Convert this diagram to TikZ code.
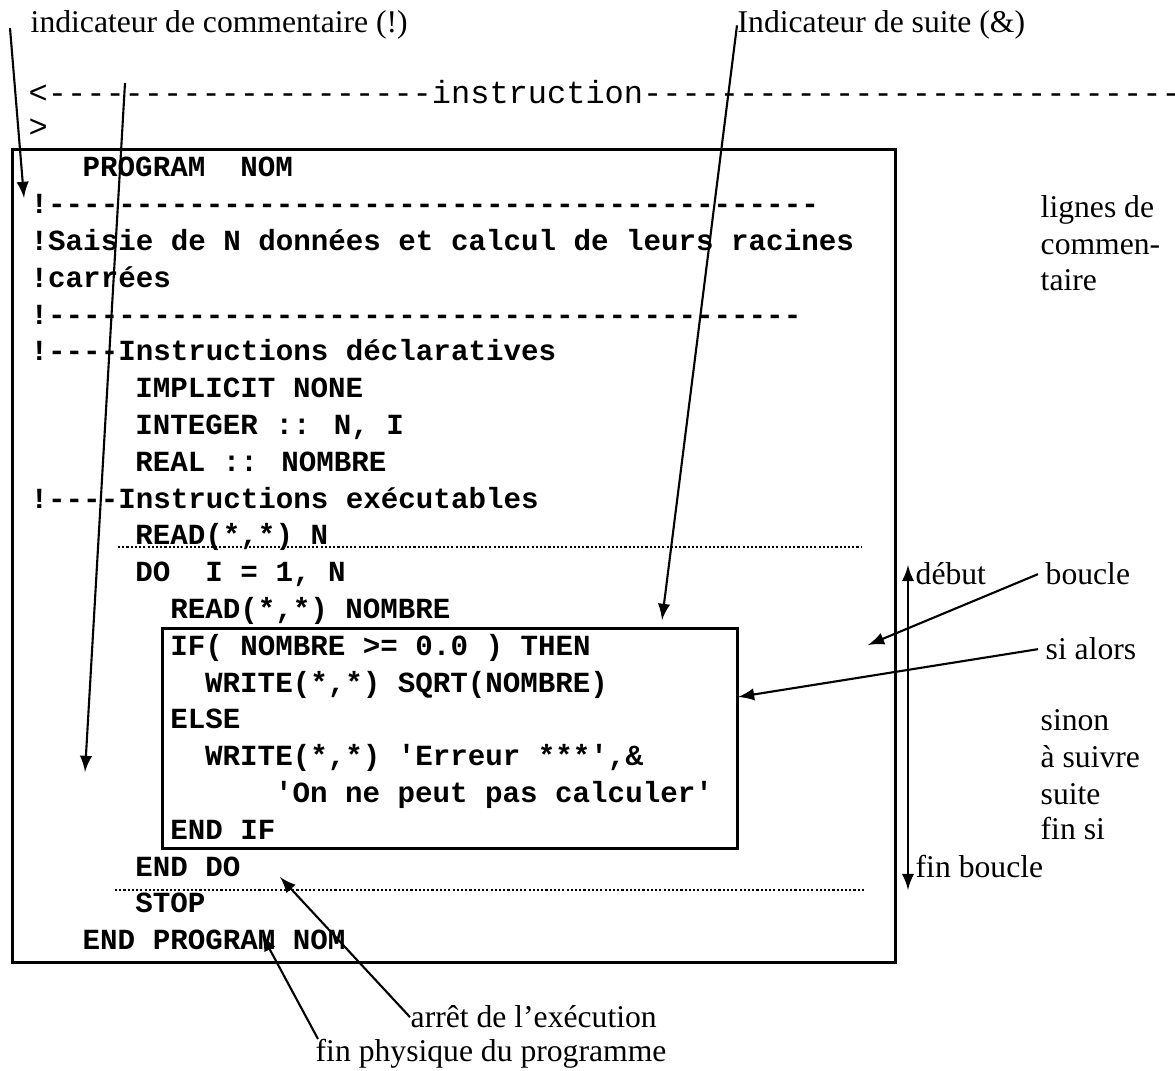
\documentclass[tikz,border=0pt]{standalone}
\usepackage{fontspec}
\setmainfont{Liberation Serif}
\newfontfamily\codefont[Ligatures=TeXOff]{Liberation Mono}

\begin{document}
\begin{tikzpicture}[x=0.01cm,y=-0.01cm,>=latex,
        code/.style={anchor=base west,inner sep=0pt,font=\codefont\bfseries\fontsize{8.3}{10}\selectfont},
        ligne/.style={anchor=base west,inner sep=0pt,font=\codefont\fontsize{9.1}{10}\selectfont},
        note/.style={anchor=base west,inner sep=0pt,font=\fontsize{9}{11}\selectfont},
        fleche/.style={->,line width=0.6pt},
        pointille/.style={line width=0.7pt,dash pattern=on 0.6pt off 0.6pt}]
        \useasboundingbox[fill=white] (0,0) rectangle (1175,1071);
        % en-tete
        \node[note] (comm) at (30,33) {indicateur de commentaire (!)};
        \node[note] (suite) at (737,33) {Indicateur de suite (\&)};
        \node[ligne] (instr) at (28,104) {<--------------------instruction----------------------------};
        \node[ligne] (ferme) at (28,138) {>};
        % les deux cadres
        \node[draw,line width=0.85pt,minimum width=8.82cm,minimum height=8.12cm] (prog) at (454,556) {};
        \node[draw,line width=0.85pt,minimum width=5.74cm,minimum height=2.19cm] (ifbox) at (450,738.5) {};
        % le programme
        \node[code] (l0) at (82,177) {PROGRAM\ \ NOM};
        \node[code] (l1) at (30,213.8) {!--------------------------------------------};
        \node[code] (l2) at (30,250.6) {!Saisie de N données et calcul de leurs racines};
        \node[code] (l3) at (30,287.4) {!carrées};
        \node[code] (l4) at (30,324.2) {!-------------------------------------------};
        \node[code] (l5) at (30,361) {!----Instructions déclaratives};
        \node[code] (l6) at (134.7,397.8) {IMPLICIT NONE};
        \node[code] (l7) at (134.7,434.6) {INTEGER :: N, I};
        \node[code] (l8) at (134.7,471.4) {REAL :: NOMBRE};
        \node[code] (l9) at (30,508.2) {!----Instructions exécutables};
        \node[code] (l10) at (134.7,545) {READ(*,*) N};
        \node[code] (l11) at (134.7,581.8) {DO\ \ I = 1, N};
        \node[code] (l12) at (169.6,618.6) {READ(*,*) NOMBRE};
        \node[code] (l13) at (169.6,655.4) {IF( NOMBRE >= 0.0 ) THEN};
        \node[code] (l14) at (204.5,692.2) {WRITE(*,*) SQRT(NOMBRE)};
        \node[code] (l15) at (169.6,729) {ELSE};
        \node[code] (l16) at (204.5,765.8) {WRITE(*,*) 'Erreur ***',\&};
        \node[code] (l17) at (274.3,802.6) {'On ne peut pas calculer'};
        \node[code] (l18) at (169.6,839.4) {END IF};
        \node[code] (l19) at (134.7,876.2) {END DO};
        \node[code] (l20) at (134.7,913) {STOP};
        \node[code] (l21) at (82,949.8) {END PROGRAM NOM};
        \draw[pointille] (118,547) -- (862,547);
        \draw[pointille] (115,890) -- (865,890);
        % notes de droite
        \node[note] (lignes) at (1040,218) {lignes de};
        \node[note] (commen) at (1040,255) {commen-};
        \node[note] (taire) at (1040,291) {taire};
        \node[note] (debut) at (915,585) {début};
        \node[note] (boucle) at (1045,585) {boucle};
        \node[note] (sialors) at (1045,660) {si alors};
        \node[note] (sinon) at (1040,731) {sinon};
        \node[note] (asuivre) at (1040,768) {à suivre};
        \node[note] (suitebis) at (1040,805) {suite};
        \node[note] (finsi) at (1040,840) {fin si};
        \node[note] (finboucle) at (915,878) {fin boucle};
        % notes du bas
        \node[note] (arret) at (410,1028) {arrêt de l’exécution};
        \node[note] (finphys) at (315,1062) {fin physique du programme};
        % fleches
        \coordinate (commdep) at (10,28);
        \coordinate (commfin) at (24,198);
        \coordinate (coldep) at (125,83);
        \coordinate (colfin) at (85,772);
        \coordinate (suitefin) at (662,620);
        \coordinate (dtop) at (908,565);
        \coordinate (dbot) at (908,890);
        \coordinate (bouclefin) at (868,645);
        \coordinate (sitip) at (738,697);
        \coordinate (stopfin) at (280,877);
        \coordinate (endfin) at (262,935);
        \draw[fleche] (commdep) -- (commfin);
        \draw[fleche] (coldep) -- (colfin);
        \draw[fleche] (suite.west) -- (suitefin);
        \draw[fleche,<->] (dtop) -- (dbot);
        \draw[fleche] ([xshift=-0.07cm]boucle.west) -- (bouclefin);
        \draw[fleche] ([xshift=-0.07cm]sialors.west) -- (sitip);
        \draw[fleche] (arret.west) -- (stopfin);
        \draw[fleche] ([xshift=0.03cm]finphys.north west) -- (endfin);
    \end{tikzpicture}
\end{document}
